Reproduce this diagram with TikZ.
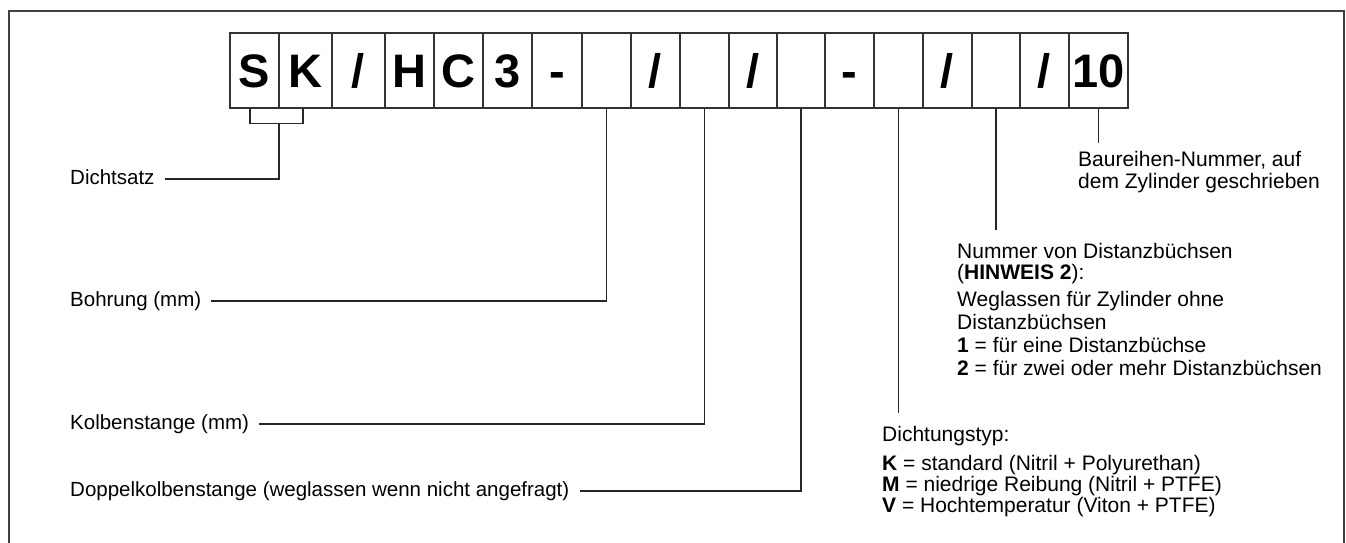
\documentclass[tikz,border=0pt]{standalone}
\usepackage{fontspec}
\setmainfont{Liberation Sans}
\begin{document}
\begin{tikzpicture}[x=1pt,y=-1pt,
  box/.style={draw=black!80, line width=1.1pt, inner sep=0pt, minimum height=75pt,
    text height=33.5pt, text depth=0pt, font=\fontsize{47}{47}\selectfont\bfseries},
  lbl/.style={inner xsep=10pt, inner ysep=0pt, text height=15pt, text depth=4.3pt,
    font=\fontsize{20.5}{22.5}\selectfont},
  rlbl/.style={inner sep=0pt, align=left},
  leader/.style={draw=black!85, line width=1.2pt}]
\useasboundingbox (0,0) rectangle (1346,543);
% frame
\draw[black!75, line width=1.6pt] (9,543) -- (9,11) -- (1344,11) -- (1344,543);
% boxes
\node[box, minimum width=49pt] (b1)  at (254.5,70.5) {S};
\node[box, minimum width=53pt] (b2)  at (305.5,70.5) {K};
\node[box, minimum width=53pt] (b3)  at (358.5,70.5) {/};
\node[box, minimum width=49pt] (b4)  at (409.5,70.5) {H};
\node[box, minimum width=49pt] (b5)  at (458.5,70.5) {C};
\node[box, minimum width=49pt] (b6)  at (507.5,70.5) {3};
\node[box, minimum width=50pt] (b7)  at (557,70.5) {-};
\node[box, minimum width=49pt] (b8)  at (606.5,70.5) {};
\node[box, minimum width=49pt] (b9)  at (655.5,70.5) {/};
\node[box, minimum width=49pt] (b10) at (704.5,70.5) {};
\node[box, minimum width=48pt] (b11) at (753,70.5) {/};
\node[box, minimum width=48pt] (b12) at (801,70.5) {};
\node[box, minimum width=49pt] (b13) at (849.5,70.5) {-};
\node[box, minimum width=49pt] (b14) at (898.5,70.5) {};
\node[box, minimum width=49pt] (b15) at (947.5,70.5) {/};
\node[box, minimum width=48pt] (b16) at (996,70.5) {};
\node[box, minimum width=49pt] (b17) at (1044.5,70.5) {/};
\node[box, minimum width=59pt] (b18) at (1098.5,70.5) {10};
% left labels
\node[lbl, anchor=west] (dicht) at (60,179) {Dichtsatz};
\node[lbl, anchor=west] (bohr)  at (60,301) {Bohrung (mm)};
\node[lbl, anchor=west] (kolb)  at (60,424) {Kolbenstange (mm)};
\node[lbl, anchor=west] (dopp)  at (60,491) {Doppelkolbenstange (weglassen wenn nicht angefragt)};
% right labels (anchored at the baseline of their last line)
\node[rlbl, anchor=base west, font=\fontsize{21}{22}\selectfont] (baur) at (1078,188)
  {Baureihen-Nummer, auf\\dem Zylinder geschrieben};
\node[rlbl, anchor=base west, font=\fontsize{21}{23}\selectfont] (dist) at (957,375)
  {Nummer von Distanzbüchsen\\[-1.5pt](\textbf{HINWEIS 2}):\\[3.5pt]Weglassen für Zylinder ohne\\Distanzbüchsen\\\textbf{1} = für eine Distanzbüchse\\\textbf{2} = für zwei oder mehr Distanzbüchsen};
\node[rlbl, anchor=base west, font=\fontsize{21}{21}\selectfont] (dtyp) at (882,512)
  {Dichtungstyp:\\[8pt]\textbf{K} = standard (Nitril + Polyurethan)\\\textbf{M} = niedrige Reibung (Nitril + PTFE)\\\textbf{V} = Hochtemperatur (Viton + PTFE)};
% leader ends
\coordinate (brk) at (279,123);
\coordinate (eBaur) at (1098.5,143);
\coordinate (eDist) at (996,230);
\coordinate (eDtyp) at (898.5,413);
% connectors
\draw[leader] ([xshift=-4.5pt]b1.south) -- ([xshift=-4.5pt,yshift=-15pt]b1.south) -- ([xshift=-2.5pt,yshift=-15pt]b2.south) -- ([xshift=-2.5pt]b2.south);
\draw[leader] (brk) |- (dicht.east);
\draw[leader] (b8.south) |- (bohr.east);
\draw[leader] (b10.south) |- (kolb.east);
\draw[leader] (b12.south) |- (dopp.east);
\draw[leader] (b14.south) -- (eDtyp);
\draw[leader] (b16.south) -- (eDist);
\draw[leader] (b18.south) -- (eBaur);
\end{tikzpicture}
\end{document}
